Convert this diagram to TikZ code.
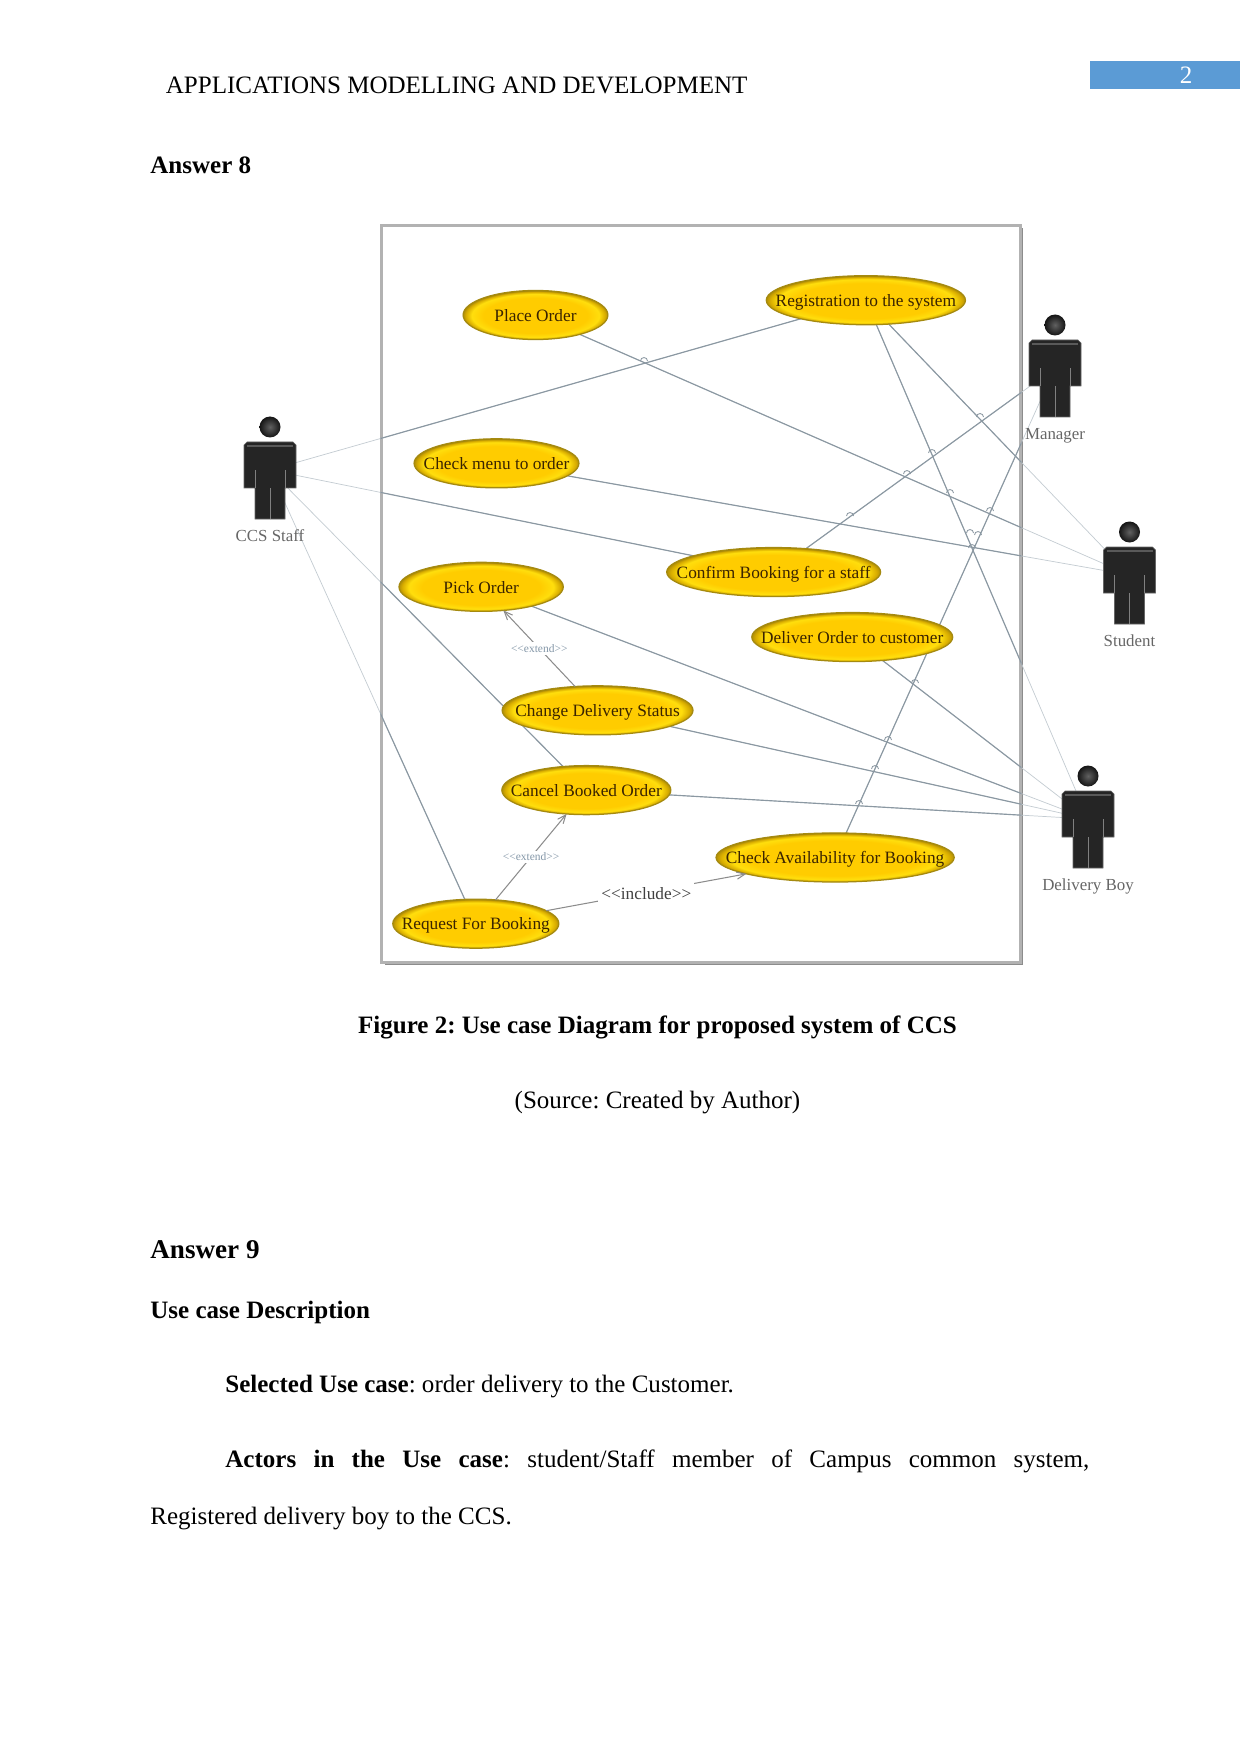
\documentclass[tikz,border=0pt]{standalone}
\usepackage{fontspec}
\setmainfont{Liberation Serif}
\usepackage{xcolor}
\usetikzlibrary{shapes.geometric,arrows,positioning,backgrounds,shadows}

\definecolor{ucrim}{HTML}{A58A10}
\definecolor{uctext}{HTML}{3A2400}
\definecolor{linedark}{HTML}{8B98A2}
\definecolor{linelight}{HTML}{C4CCD2}
\definecolor{actorbody}{HTML}{252525}
\definecolor{pagebar}{HTML}{5B9BD5}
\definecolor{extendgray}{HTML}{8497A8}

\pgfdeclareradialshading{ucshade}{\pgfpoint{0bp}{-1bp}}{%
  rgb(0bp)=(1,.8,0); rgb(18bp)=(1,.8,0); rgb(22bp)=(1,.87,.05);
  rgb(24bp)=(.85,.68,0); rgb(26bp)=(.55,.45,.05); rgb(50bp)=(.55,.45,.05)}

\def\assoclist{staff-c/reg, staff-c/confirm, staff-c/cancel, staff-c/request,
  place/student-c, check/student-c, reg/student-c, reg/delivery-c,
  confirm/manager-c, avail/manager-c, deliver/delivery-c, pick/delivery-c,
  change/delivery-c, cancel/delivery-c}

\newcommand{\uctxt}[1]{\makebox[0pt]{#1}}

\tikzset{
  actor/.pic={
    \coordinate (-c) at (0,0);
    \fill[actorbody, draw=black!60, line width=0.3pt] (-23,-28) -- (23,-28) -- (26,-25) -- (26,18) -- (15,18)
      -- (15,49) -- (-15,49) -- (-15,18) -- (-26,18) -- (-26,-25) -- cycle;
    \draw[black!65, line width=1pt] (-23,-24) -- (23,-24);
    \draw[black!50, line width=0.2pt] (0,18) -- (0,49) (-15,0) -- (-15,18) (15,0) -- (15,18);
    \shade[inner color=black!62, outer color=black!92] (0,-43) circle (10.5);
    \node[actorname] (-label) at (0,71.5) {#1};
  },
}

\frenchspacing
\begin{document}
\begin{tikzpicture}[
    x=0.016922cm, y=-0.016922cm,
    on grid,
    usecase/.style={ellipse, draw=ucrim, line width=0.6pt, shade, shading=ucshade, inner sep=0pt, outer sep=0pt,
      minimum width=#1cm, minimum height=0.83cm, text=uctext, text height=1.6ex, text depth=0.3ex,
      font=\fontsize{8.3bp}{10bp}\selectfont},
    actorname/.style={anchor=base, inner sep=0pt, text=black!60, font=\fontsize{8.1bp}{10bp}\selectfont},
    sysframe/.style={rectangle, draw=black!30, line width=1.4pt, fill=white, inner sep=0pt,
      minimum width=10.8cm, minimum height=12.47cm,
      drop shadow={shadow xshift=1.4pt, shadow yshift=-1.2pt, fill=black!50, opacity=0.9}},
    assoc/.style={draw=linedark, line width=0.55pt},
    assoclight/.style={draw=linelight, line width=0.35pt},
    hopmark/.style={draw=linedark, line width=0.4pt},
    extend/.style={->, >=angle 45, draw=black!45, line width=0.5pt},
    extendname/.style={fill=white, inner sep=1pt, text=extendgray, font=\fontsize{5.5bp}{7bp}\selectfont},
    includename/.style={fill=white, inner sep=1.5pt, text=black!75, text height=1.9ex, text depth=0.3ex,
      font=\fontsize{8.3bp}{10bp}\selectfont},
    pagetext/.style={anchor=base west, inner sep=0pt, font=\fontsize{12bp}{14bp}\selectfont},
    pagehead/.style={anchor=base west, inner sep=0pt, font=\fontsize{12bp}{14bp}\selectfont\bfseries},
]
\useasboundingbox (0,0) rectangle (1241,1754);

% Page header
\node[pagetext] (running) at (165.5,93.7) {APPLICATIONS MODELLING AND DEVELOPMENT};
\node[rectangle, fill=pagebar, minimum width=2.55cm, minimum height=0.485cm, inner sep=0pt] (bar) at (1165,75) {};
\node[anchor=base, inner sep=0pt, text=white, font=\fontsize{12bp}{14bp}\selectfont] (pageno) at (1186,84) {2};
\node[pagehead] (answer8) at (150,174) {Answer 8};

% Use cases
\node[usecase=2.45] (place) at (535.5,315) {\uctxt{Place Order}};
\node[usecase=2.79, below left=2.51cm and 0.66cm of place] (check) {\uctxt{Check menu to order}};
\node[usecase=2.78, below left=2.09cm and 0.26cm of check] (pick) {\uctxt{Pick Order}};
\node[usecase=3.23, below right=2.09cm and 1.97cm of pick] (change) {\uctxt{Change Delivery Status}};
\node[usecase=2.86, below left=1.35cm and 0.19cm of change] (cancel) {\uctxt{Cancel Booked Order}};
\node[usecase=2.81, below left=2.26cm and 1.87cm of cancel] (request) {\uctxt{Request For Booking}};
\node[usecase=4.03, above right=1.12cm and 6.08cm of request] (avail) {\uctxt{Check Availability for Booking}};
\node[usecase=3.37, above right=0.25cm and 5.59cm of place] (reg) {\uctxt{Registration to the system}};
\node[usecase=3.62, below left=4.60cm and 1.56cm of reg] (confirm) {\uctxt{Confirm Booking for a staff}};
\node[usecase=3.40, below right=1.10cm and 1.33cm of confirm] (deliver) {\uctxt{Deliver Order to customer}};

% Actors
\pic (staff) at (270,470) {actor={CCS Staff}};
\pic (manager) at (1055,368) {actor={Manager}};
\pic (student) at (1129.5,575) {actor={Student}};
\pic (delivery) at (1088,819) {actor={Delivery Boy}};

% System box and associations
\begin{pgfonlayer}{background}
  \node[sysframe] (system) at (701,594) {};
  \foreach \from/\to in \assoclist
    \draw[assoclight] (\from) -- (\to);
  \begin{scope}
    \clip (system.south west) rectangle (system.north east);
    \foreach \from/\to in \assoclist
      \draw[assoc] (\from) -- (\to);
  \end{scope}
  % Line hops
  \foreach \hx/\hy in {644/361, 980/417, 932/453, 907/474, 950/493, 990/511, 850/516,
      970/533, 978/535, 972/548, 915/683, 888/740, 875/769, 859/804}
    \draw[hopmark] (\hx,\hy) ++(-3.5,0) arc (180:360:3.5);
\end{pgfonlayer}

% Dependencies
\draw[extend] (change) -- node[extendname] (ext1) {<{}<extend>{}>} (pick);
\draw[extend] (request) -- node[extendname] (ext2) {<{}<extend>{}>} (cancel);
\draw[extend] (request) -- node[includename] (inc) {<{}<include>{}>} (avail);

% Page text
\node[anchor=base, inner sep=0pt, font=\fontsize{12bp}{14bp}\selectfont\bfseries] (caption) at (657.5,1033) {Figure 2: Use case Diagram for proposed system of CCS};
\node[anchor=base, inner sep=0pt, font=\fontsize{12bp}{14bp}\selectfont] (source) at (657.5,1108) {(Source: Created by Author)};
\node[anchor=base west, inner sep=0pt, font=\fontsize{13bp}{15bp}\selectfont\bfseries] (answer9) at (150,1258) {Answer 9};
\node[pagehead] (desc) at (150,1318) {Use case Description};
\node[pagetext] (selected) at (225,1392) {\textbf{Selected Use case}: order delivery to the Customer.};
\node[pagetext] (actors) at (225,1467) {\makebox[14.62cm][s]{\textbf{Actors in the Use case}: student/Staff member of Campus common system,}};
\node[pagetext] (registered) at (150,1524) {Registered delivery boy to the CCS.};

\end{tikzpicture}
\end{document}
